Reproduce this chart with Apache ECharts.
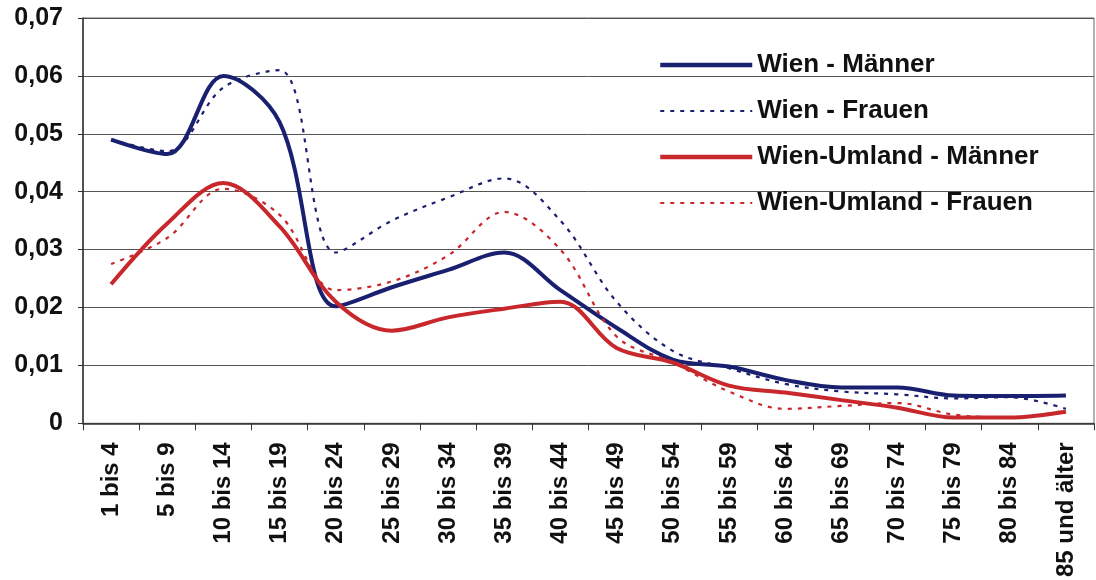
<!DOCTYPE html>
<html><head><meta charset="utf-8">
<script src="https://cdn.jsdelivr.net/npm/echarts@6/dist/echarts.min.js"></script>
<style>html,body{margin:0;padding:0;background:#fff}#c{width:1096px;height:580px}</style>
</head><body><div id="c"></div>
<script>
const categories = ["1 bis 4","5 bis 9","10 bis 14","15 bis 19","20 bis 24","25 bis 29","30 bis 34","35 bis 39","40 bis 44","45 bis 49","50 bis 54","55 bis 59","60 bis 64","65 bis 69","70 bis 74","75 bis 79","80 bis 84","85 und älter"];
const wienMaenner = [0.049,0.0465,0.060,0.052,0.0202,0.0235,0.0265,0.0295,0.023,0.0165,0.011,0.0098,0.0075,0.0062,0.0062,0.0048,0.0047,0.0048];
const wienFrauen = [0.049,0.047,0.058,0.061,0.0295,0.035,0.039,0.0423,0.035,0.021,0.0125,0.0095,0.0068,0.0055,0.005,0.0043,0.0045,0.0025];
const umlandMaenner = [0.024,0.0345,0.0415,0.034,0.021,0.016,0.0183,0.0198,0.021,0.013,0.0105,0.0065,0.0053,0.004,0.0027,0.001,0.001,0.002];
const umlandFrauen = [0.0275,0.032,0.0405,0.036,0.023,0.0245,0.029,0.0365,0.030,0.015,0.0105,0.0055,0.0025,0.003,0.0035,0.0015,0.001,0.0022];
const yTicks = {min:0, max:0.07, interval:0.01};

const navy = '#1a2070', red = '#c8282c';
const font = 'Liberation Sans, Arial, sans-serif';
const dash = [4,6];
function mk(name, data, color, solid){
  return {name, type:'line', data, smooth:0.35, showSymbol:false, symbol:'none',
    lineStyle:{color, width: solid?4:2.2, type: solid?'solid':dash},
    itemStyle:{color}};
}
function legItem(name, color, solid){
  return {name, itemStyle:{opacity:0}, lineStyle:{color, width: solid?4.5:2.2, type: solid?'solid':dash}};
}
const chart = echarts.init(document.getElementById('c'), null, {renderer:'canvas'});
chart.setOption({
  animation:false,
  backgroundColor:'#fff',
  grid:{left:83, top:18, right:2, bottom:156, show:true, borderColor:'#666', borderWidth:1},
  legend:{orient:'vertical', left:658, top:51, padding:0, itemWidth:92, itemHeight:14, itemGap:18,
    itemStyle:{opacity:0},
    textStyle:{fontFamily:font, fontWeight:'bold', fontSize:26, lineHeight:28, color:'#111'},
    data:[legItem('Wien - Männer',navy,true), legItem('Wien - Frauen',navy,false),
          legItem('Wien-Umland - Männer',red,true), legItem('Wien-Umland - Frauen',red,false)]},
  xAxis:{type:'category', data:categories, boundaryGap:true,
    axisLine:{lineStyle:{color:'#333', width:1.5}},
    axisTick:{show:true, length:7, lineStyle:{color:'#333'}},
    axisLabel:{rotate:90, interval:0, margin:19, fontFamily:font, fontWeight:'bold', fontSize:24, color:'#111'}},
  yAxis:{type:'value', min:yTicks.min, max:yTicks.max, interval:yTicks.interval,
    axisLine:{show:true, lineStyle:{color:'#333', width:1.5}},
    axisTick:{show:true, length:5, lineStyle:{color:'#333'}},
    splitLine:{lineStyle:{color:'#555', width:1}},
    axisLabel:{margin:20, fontFamily:font, fontWeight:'bold', fontSize:25, color:'#111',
      formatter:v=> v===0?'0':v.toFixed(2).replace('.',',')}},
  series:[
    mk('Wien - Männer', wienMaenner, navy, true),
    mk('Wien - Frauen', wienFrauen, navy, false),
    mk('Wien-Umland - Männer', umlandMaenner, red, true),
    mk('Wien-Umland - Frauen', umlandFrauen, red, false)
  ]
});
</script></body></html>
